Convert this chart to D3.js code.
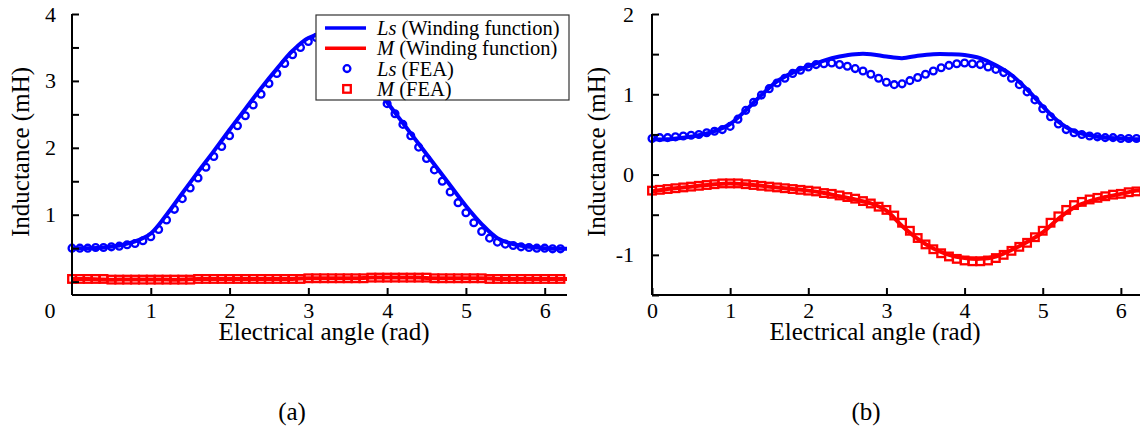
<!DOCTYPE html>
<html>
<head>
<meta charset="utf-8">
<script src="https://cdn.jsdelivr.net/npm/d3@7"></script>
<style>
  body { margin: 0; background: #fff; }
  svg text { font-family: "Liberation Serif", "Times New Roman", serif; fill: #000; }
</style>
</head>
<body>
<svg id="chart" width="1140" height="433"></svg>
<script>
// angles (rad): winding function sampled every 0.2 rad + 2*pi, FEA every 0.1 rad
var windAngles = d3.range(0, 32).map(function (i) { return i / 5; }).concat([2 * Math.PI]);
var feaAngles = d3.range(0, 63).map(function (i) { return i / 10; });

// (a) inductances, mH
var lsWindA = [0.50, 0.50, 0.51, 0.54, 0.60, 0.72, 1.00, 1.32, 1.64, 1.95, 2.27, 2.58, 2.89, 3.18, 3.45, 3.64,
  3.70, 3.55, 3.30, 3.00, 2.68, 2.37, 2.06, 1.75, 1.44, 1.13, 0.86, 0.65, 0.56, 0.52, 0.50, 0.49, 0.49];
var mWindA = [0.04, 0.04, 0.03, 0.03, 0.03, 0.03, 0.03, 0.03, 0.04, 0.04, 0.04, 0.04, 0.04, 0.04, 0.04, 0.05,
  0.05, 0.05, 0.05, 0.06, 0.06, 0.06, 0.06, 0.05, 0.05, 0.05, 0.05, 0.04, 0.04, 0.04, 0.04, 0.04, 0.04];
var lsFeaA = [0.50, 0.50, 0.50, 0.51, 0.51, 0.52, 0.53, 0.55, 0.57, 0.61, 0.67, 0.78, 0.92, 1.08, 1.24, 1.40,
  1.55, 1.71, 1.87, 2.02, 2.18, 2.33, 2.48, 2.64, 2.80, 2.96, 3.11, 3.26, 3.39, 3.50, 3.59, 3.65,
  3.66, 3.61, 3.52, 3.40, 3.25, 3.10, 2.95, 2.81, 2.66, 2.51, 2.35, 2.18, 2.01, 1.84, 1.67, 1.50,
  1.34, 1.18, 1.03, 0.88, 0.75, 0.65, 0.59, 0.56, 0.54, 0.52, 0.51, 0.50, 0.50, 0.49, 0.49];
var mFeaA = [0.04, 0.04, 0.04, 0.04, 0.04, 0.03, 0.03, 0.03, 0.03, 0.03, 0.03, 0.03, 0.03, 0.03, 0.03, 0.03,
  0.04, 0.04, 0.04, 0.04, 0.04, 0.04, 0.04, 0.04, 0.04, 0.04, 0.04, 0.04, 0.04, 0.04, 0.05, 0.05,
  0.05, 0.05, 0.05, 0.05, 0.05, 0.05, 0.06, 0.06, 0.06, 0.06, 0.06, 0.06, 0.06, 0.06, 0.05, 0.05,
  0.05, 0.05, 0.05, 0.05, 0.05, 0.04, 0.04, 0.04, 0.04, 0.04, 0.04, 0.04, 0.04, 0.04, 0.04];

// (b) inductances, mH
var lsWindB = [0.44, 0.44, 0.46, 0.49, 0.54, 0.63, 0.80, 0.99, 1.16, 1.27, 1.35, 1.42, 1.47, 1.50, 1.50, 1.47,
  1.45, 1.48, 1.50, 1.50, 1.49, 1.45, 1.36, 1.24, 1.06, 0.85, 0.66, 0.54, 0.49, 0.46, 0.45, 0.44, 0.44];
var mWindB = [-0.21, -0.18, -0.16, -0.14, -0.12, -0.11, -0.12, -0.14, -0.16, -0.18, -0.20, -0.23, -0.27, -0.31, -0.36, -0.45,
  -0.64, -0.80, -0.92, -1.00, -1.04, -1.05, -1.02, -0.94, -0.84, -0.72, -0.55, -0.41, -0.33, -0.28, -0.24, -0.20, -0.19];
var lsFeaB = [0.45, 0.46, 0.46, 0.47, 0.48, 0.49, 0.50, 0.52, 0.54, 0.56, 0.60, 0.69, 0.80, 0.90, 0.99, 1.07,
  1.14, 1.20, 1.26, 1.30, 1.34, 1.37, 1.38, 1.39, 1.37, 1.35, 1.32, 1.29, 1.25, 1.20, 1.15, 1.12,
  1.13, 1.17, 1.21, 1.25, 1.29, 1.33, 1.36, 1.38, 1.39, 1.38, 1.37, 1.34, 1.31, 1.27, 1.20, 1.12,
  1.03, 0.93, 0.82, 0.72, 0.63, 0.56, 0.52, 0.50, 0.48, 0.47, 0.46, 0.46, 0.45, 0.45, 0.45];
var mFeaB = [-0.20, -0.19, -0.18, -0.17, -0.16, -0.15, -0.14, -0.13, -0.12, -0.11, -0.11, -0.11, -0.12, -0.13, -0.14, -0.15,
  -0.16, -0.17, -0.18, -0.19, -0.20, -0.21, -0.23, -0.24, -0.26, -0.28, -0.30, -0.33, -0.36, -0.40, -0.44, -0.51,
  -0.60, -0.70, -0.79, -0.87, -0.93, -0.98, -1.02, -1.05, -1.07, -1.08, -1.08, -1.07, -1.04, -1.00, -0.95, -0.90,
  -0.85, -0.78, -0.70, -0.60, -0.52, -0.44, -0.38, -0.34, -0.31, -0.29, -0.27, -0.25, -0.24, -0.22, -0.21];

var xTicksA = [1, 2, 3, 4, 5, 6];
var xTicksB = [0, 1, 2, 3, 4, 5, 6];
var yTicksA = [0, 0.5, 1, 1.5, 2, 2.5, 3, 3.5, 4];
var yTicksB = [-1.5, -1, -0.5, 0, 0.5, 1, 1.5, 2];

var legendItems = [
  { name: "Ls", rest: " (Winding function)", kind: "line", color: "#0000ff" },
  { name: "M", rest: " (Winding function)", kind: "line", color: "#ff0000" },
  { name: "Ls", rest: " (FEA)", kind: "circle", color: "#0000ff" },
  { name: "M", rest: " (FEA)", kind: "square", color: "#ff0000" }
];

var blue = "#0000ff", red = "#ff0000";
var svg = d3.select("#chart");

function zip(xs, ys) { return ys.map(function (v, i) { return [xs[i], v]; }); }

function drawPanel(cfg) {
  var x = d3.scaleLinear().domain([0, 2 * Math.PI]).range(cfg.xRange);
  var y = d3.scaleLinear().domain(cfg.yDomain).range([295, 14]);
  var g = svg.append("g");

  var line = d3.line()
    .x(function (d) { return x(d[0]); })
    .y(function (d) { return y(d[1]); })
    .curve(d3.curveCatmullRom);

  // winding function curves
  g.append("path")
    .datum(zip(windAngles, cfg.lsWind))
    .attr("d", line)
    .attr("fill", "none")
    .attr("stroke", blue)
    .attr("stroke-width", 4);
  g.append("path")
    .datum(zip(windAngles, cfg.mWind))
    .attr("d", line)
    .attr("fill", "none")
    .attr("stroke", red)
    .attr("stroke-width", 4);

  // FEA markers
  g.selectAll(".ls-fea")
    .data(zip(feaAngles, cfg.lsFea))
    .enter()
    .append("circle")
    .attr("cx", function (d) { return x(d[0]); })
    .attr("cy", function (d) { return y(d[1]); })
    .attr("r", 3.4)
    .attr("fill", "none")
    .attr("stroke", blue)
    .attr("stroke-width", 2.3);
  g.selectAll(".m-fea")
    .data(zip(feaAngles, cfg.mFea))
    .enter()
    .append("rect")
    .attr("x", function (d) { return x(d[0]) - 3.8; })
    .attr("y", function (d) { return y(d[1]) - 3.8; })
    .attr("width", 7.6)
    .attr("height", 7.6)
    .attr("fill", "none")
    .attr("stroke", red)
    .attr("stroke-width", 2.3);

  // axes, ticks pointing inward
  var yAxis = g.append("g")
    .attr("transform", "translate(" + cfg.xRange[0] + ",0)")
    .call(d3.axisLeft(y).tickValues(cfg.yTicks).tickSize(-7).tickSizeOuter(0).tickPadding(cfg.yPad)
      .tickFormat(function (d) { return cfg.yLabels.indexOf(d) >= 0 ? String(d) : ""; }));
  var xAxis = g.append("g")
    .attr("transform", "translate(0,295)")
    .call(d3.axisBottom(x).tickValues(cfg.xTicks).tickSize(-7).tickSizeOuter(0).tickPadding(7)
      .tickFormat(function (d) { return String(d); }));

  [xAxis, yAxis].forEach(function (ax) {
    ax.select(".domain").attr("stroke", "#000").attr("stroke-width", 2);
    ax.selectAll(".tick line").attr("stroke", "#000").attr("stroke-width", 2);
    ax.selectAll("text")
      .attr("font-size", 22)
      .attr("fill", "#000");
  });
  yAxis.select(".domain").attr("d", "M0," + y(cfg.yDomain[1]) + "V295");
  xAxis.select(".domain").attr("d", "M" + cfg.xRange[0] + ",0H" + cfg.xRange[1]);

  g.append("text")
    .attr("transform", "translate(" + cfg.yTitleX + ",152) rotate(-90)")
    .attr("text-anchor", "middle")
    .attr("font-size", 25)
    .text("Inductance (mH)");
  g.append("text")
    .attr("x", cfg.xTitleX)
    .attr("y", 340)
    .attr("text-anchor", "middle")
    .attr("font-size", 25)
    .text("Electrical angle (rad)");
  g.append("text")
    .attr("x", cfg.tagX)
    .attr("y", 420)
    .attr("text-anchor", "middle")
    .attr("font-size", 25)
    .text(cfg.tag);

  return g;
}

var panelA = drawPanel({
  xRange: [72, 567], yDomain: [-0.2, 4], yTicks: yTicksA, yLabels: [1, 2, 3, 4], yPad: 16, xTicks: xTicksA,
  lsWind: lsWindA, mWind: mWindA, lsFea: lsFeaA, mFea: mFeaA,
  yTitleX: 29, xTitleX: 324, tagX: 292, tag: "(a)"
});
// the lone origin label at the lower left of (a)
panelA.append("text")
  .attr("x", 50)
  .attr("y", 318)
  .attr("text-anchor", "middle")
  .attr("font-size", 22)
  .text("0");

drawPanel({
  xRange: [652, 1143], yDomain: [-1.5, 2], yTicks: yTicksB, yLabels: [-1, 0, 1, 2], yPad: 18, xTicks: xTicksB,
  lsWind: lsWindB, mWind: mWindB, lsFea: lsFeaB, mFea: mFeaB,
  yTitleX: 605, xTitleX: 875, tagX: 866, tag: "(b)"
});

// legend
var legend = svg.append("g")
  .attr("transform", "translate(316,15)");

legend.append("rect")
  .attr("width", 253)
  .attr("height", 85)
  .attr("fill", "white")
  .attr("stroke", "#333")
  .attr("stroke-width", 1.2);

var rows = legend.selectAll(".row")
  .data(legendItems)
  .enter()
  .append("g")
  .attr("transform", function (d, i) { return "translate(0," + (13 + i * 20.3) + ")"; });

rows.filter(function (d) { return d.kind === "line"; })
  .append("line")
  .attr("x1", 9).attr("x2", 50)
  .attr("stroke", function (d) { return d.color; })
  .attr("stroke-width", 3.5);
rows.filter(function (d) { return d.kind === "circle"; })
  .append("circle")
  .attr("cx", 31).attr("r", 3.4)
  .attr("fill", "none")
  .attr("stroke", function (d) { return d.color; })
  .attr("stroke-width", 2.3);
rows.filter(function (d) { return d.kind === "square"; })
  .append("rect")
  .attr("x", 27.2).attr("y", -3.8)
  .attr("width", 7.6).attr("height", 7.6)
  .attr("fill", "none")
  .attr("stroke", function (d) { return d.color; })
  .attr("stroke-width", 2.3);

var label = rows.append("text")
  .attr("x", 61)
  .attr("y", 7)
  .attr("font-size", 20.5);
label.append("tspan")
  .attr("font-style", "italic")
  .text(function (d) { return d.name; });
label.append("tspan")
  .text(function (d) { return d.rest; });
</script>
</body>
</html>
